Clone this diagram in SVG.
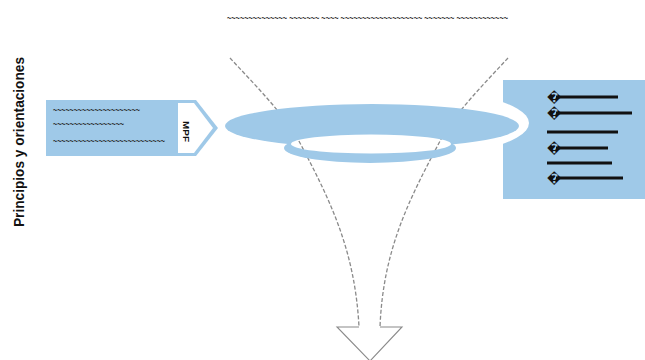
<svg xmlns="http://www.w3.org/2000/svg" width="645" height="360" viewBox="0 0 645 360">
<style>
.sq{font-family:"Liberation Sans",Arial,sans-serif;font-size:9px;font-weight:bold;fill:#222;}
.blue{fill:#9FC9E8;}
.dash{fill:none;stroke:#8a8a8a;stroke-width:1.3;stroke-dasharray:4,2;}
.solid{fill:none;stroke:#8a8a8a;stroke-width:1.1;}
.bl{stroke:#111;stroke-width:2.8;}
.bul{font-family:"DejaVu Sans","Liberation Sans",sans-serif;font-size:13px;font-weight:bold;fill:#111;}
</style>
<defs>
<mask id="hole">
<rect x="0" y="0" width="645" height="360" fill="#fff"/>
<ellipse cx="371" cy="144" rx="80" ry="9.5" fill="#000"/>
</mask>
</defs>
<rect width="645" height="360" fill="#fff"/>

<g id="title">
<text class="sq" x="227" y="21" font-size="7.4" textLength="281" lengthAdjust="spacingAndGlyphs">~~~~~~~~~~~~~~ ~~~~~~~ ~~~~ ~~~~~~~~~~~~~~~~~~~ ~~~~~~~ ~~~~~~~~~~~~</text>
</g>

<g id="label-principios">
<text x="0" y="0" transform="translate(24,142) rotate(-90)" text-anchor="middle" font-family="'Liberation Sans',Arial,sans-serif" font-weight="bold" font-size="15" fill="#111" textLength="170" lengthAdjust="spacingAndGlyphs">Principios y orientaciones</text>
</g>

<g id="right-box">
<rect class="blue" x="503" y="80" width="142" height="119"/>
<ellipse cx="372" cy="123" rx="157" ry="38" fill="#fff"/>
<text class="bul" x="547" y="102">�</text>
<line class="bl" x1="556" y1="97" x2="618" y2="97"/>
<text class="bul" x="547" y="118">�</text>
<line class="bl" x1="556" y1="113" x2="632" y2="113"/>
<line class="bl" x1="547" y1="132" x2="618" y2="132"/>
<text class="bul" x="547" y="153">�</text>
<line class="bl" x1="556" y1="148" x2="608" y2="148"/>
<line class="bl" x1="547" y1="163" x2="612" y2="163"/>
<text class="bul" x="547" y="183">�</text>
<line class="bl" x1="556" y1="178" x2="623" y2="178"/>
</g>

<g id="connectors">
<path class="dash" d="M230,58 C255,85 285,115 300,143 C330,200 355,250 359,327"/>
<path class="dash" d="M508,58 C483,85 453,115 439,143 C409,200 383,250 380,327"/>
<path class="solid" d="M359,327 L337,327 L370,361 L402,327 L380,327"/>
</g>

<g id="funnel">
<g mask="url(#hole)">
<ellipse class="blue" cx="372" cy="126" rx="147" ry="22"/>
<ellipse class="blue" cx="370" cy="148" rx="86" ry="15"/>
</g>
</g>

<g id="left-box">
<path class="blue" d="M46,100 L196,100 L218,128 L196,156 L46,156 Z"/>
<path fill="#fff" d="M178,103 L194,103 L213,128 L194,153 L178,153 Z"/>
<text class="sq" x="53" y="113" textLength="87" lengthAdjust="spacingAndGlyphs">~~~~~~~~~~~~~~~~~~~~~</text>
<text class="sq" x="53" y="127" textLength="71" lengthAdjust="spacingAndGlyphs">~~~~~~~~~~~~~~~~~</text>
<text class="sq" x="53" y="144" textLength="112" lengthAdjust="spacingAndGlyphs">~~~~~~~~~~~~~~~~~~~~~~~~~~~</text>
<text x="0" y="0" transform="translate(183,121) rotate(90)" font-family="'Liberation Sans',Arial,sans-serif" font-weight="bold" font-size="9" fill="#111" textLength="21" lengthAdjust="spacingAndGlyphs">MPF</text>
</g>
</svg>
